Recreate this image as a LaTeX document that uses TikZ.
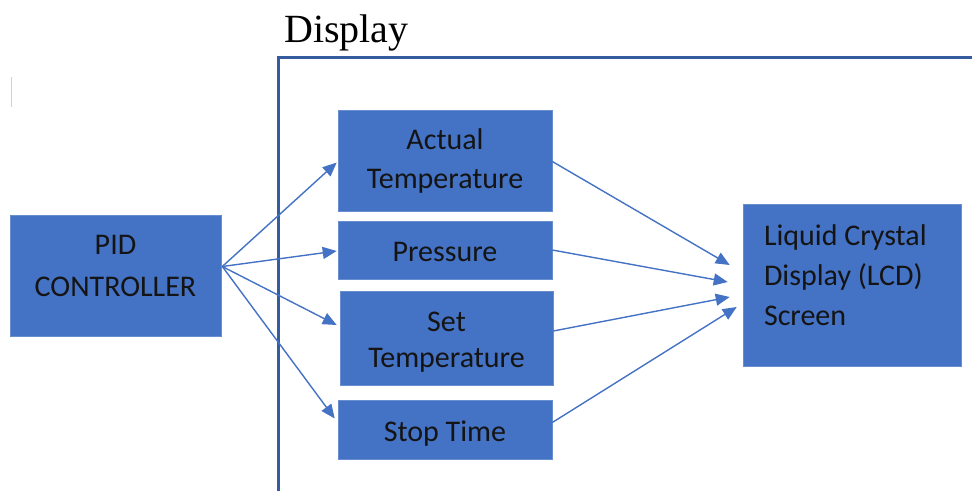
\documentclass[tikz,border=0pt]{standalone}
\usepackage{fontspec}
\setmainfont{Carlito}
\newfontfamily\serifface{Liberation Serif}
\usetikzlibrary{arrows.meta,calc}
\definecolor{boxblue}{HTML}{4472C4}
\definecolor{frameblue}{HTML}{345C9F}
\begin{document}
\begin{tikzpicture}[x=1pt,y=-1pt,
  block/.style={fill=boxblue,draw=boxblue!80!white,line width=0.6pt,inner sep=0pt},
  txt/.style={inner sep=0pt,text=black!92,font=\fontsize{30}{39}\selectfont,align=center},
  link/.style={draw=boxblue,line width=1.4pt,-{Triangle[length=14pt,width=12pt]}},
  frame/.style={draw=frameblue,line width=3pt}]
\useasboundingbox (0,0) rectangle (972,491);
% small marker line at the top left
\draw[black!18,line width=1pt] (11,77) -- (11,107);
% display group
\draw[frame] (278,491) |- (972,57);
\node[anchor=base west,font=\serifface\fontsize{40}{44}\selectfont,inner sep=0pt] (title) at (284,42) {Display};
% blocks
\node[block,minimum width=211pt,minimum height=121pt,
  label={[txt,font=\fontsize{30}{42}\selectfont,yshift=10pt]center:PID\\CONTROLLER}] (pid) at (115.5,275.5) {};
\node[block,minimum width=214pt,minimum height=101pt,
  label={[txt]center:Actual\\Temperature}] (act) at (445,160.5) {};
\node[block,minimum width=214pt,minimum height=58pt,
  label={[txt,yshift=-2pt]center:Pressure}] (pres) at (445,250) {};
\node[block,minimum width=213pt,minimum height=94pt,
  label={[txt,font=\fontsize{30}{36}\selectfont,yshift=-4pt]center:Set\\Temperature}] (set) at (446.5,338) {};
\node[block,minimum width=214pt,minimum height=59pt,
  label={[txt,yshift=-4pt]center:Stop Time}] (stop) at (445,429.5) {};
\node[block,minimum width=218pt,minimum height=162pt,
  label={[txt,font=\fontsize{30}{40}\selectfont,align=flush left,text width=176pt,yshift=10pt]center:Liquid Crystal\\Display (LCD)\\Screen}] (lcd) at (852,285) {};
% signals from the controller
\coordinate (src) at ($(pid.east)+(1,-9)$);
\draw[link] (src) -- ($(act.west)+(-1,2)$);
\draw[link] (src) -- ($(pres.west)+(-1,1)$);
\draw[link] (src) -- ($(set.west)+(-3,-13)$);
\draw[link] (src) -- ($(stop.west)+(-3,-11)$);
% signals to the screen
\draw[link] ($(act.east)+(0,1)$) -- ($(lcd.west)+(-13,-20)$);
\draw[link] (pres.east) -- ($(lcd.west)+(-15,-3)$);
\draw[link] ($(set.east)+(0,-7)$) -- ($(lcd.west)+(-13,12)$);
\draw[link] ($(stop.east)+(0,-7)$) -- ($(lcd.west)+(-6,22)$);
\end{tikzpicture}
\end{document}
